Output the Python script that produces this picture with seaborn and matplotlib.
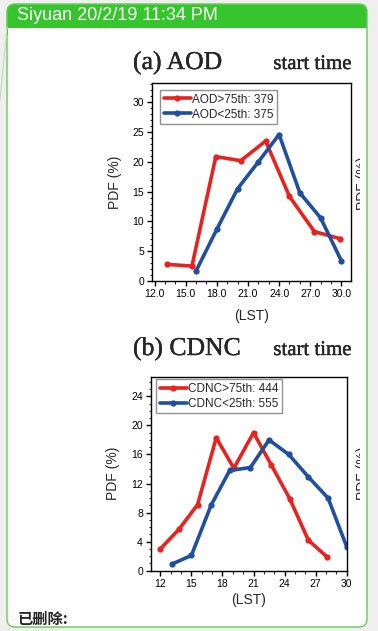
import numpy as np
import matplotlib
matplotlib.use("Agg")
import matplotlib.pyplot as plt
import matplotlib.patches as mpatches
import matplotlib.lines as mlines
import matplotlib.patheffects as pe
from matplotlib.ticker import MultipleLocator, FormatStrFormatter
import seaborn as sns

# data
aod_hi_x = [13.2, 15.6, 17.9, 20.3, 22.7, 25.0, 27.4, 29.9]
aod_hi_y = [2.8, 2.5, 20.9, 20.2, 23.5, 14.2, 8.3, 7.1]
aod_lo_x = [16, 18, 20, 22, 24, 26, 28, 30]
aod_lo_y = [1.7, 8.7, 15.5, 20.0, 24.6, 14.8, 10.6, 3.4]

cdnc_hi_x = [12.0, 13.8, 15.6, 17.4, 19.1, 21.0, 22.7, 24.5, 26.3, 28.1]
cdnc_hi_y = [3.0, 5.7, 9.1, 18.3, 14.1, 19.0, 14.6, 9.9, 4.2, 1.9]
cdnc_lo_x = [13.1, 15.0, 16.9, 18.7, 20.7, 22.5, 24.4, 26.3, 28.2, 30.0]
cdnc_lo_y = [0.9, 2.1, 9.0, 13.8, 14.2, 18.0, 16.0, 12.9, 10.0, 3.3]

aod_labels = ["AOD>75th: 379", "AOD<25th: 375"]
cdnc_labels = ["CDNC>75th: 444", "CDNC<25th: 555"]
x_ticks = [12, 15, 18, 21, 24, 27, 30]

RED = "#e8231f"
BLUE = "#1f4fa0"
GREEN = "#36c52d"
BORDER = "#62cc58"

sns.set_style("ticks")
plt.rcParams["font.family"] = ["Liberation Sans", "DejaVu Sans"]

W, H = 378, 631
fig = plt.figure(figsize=(W / 100, H / 100), dpi=100)
fig.patch.set_facecolor("#efefef")
T = fig.dpi_scale_trans


def box(x0, y0, x1, y1, **kw):
    # pixel coords, y from top
    return mpatches.FancyBboxPatch((x0 / 100, (H - y1) / 100), (x1 - x0) / 100, (y1 - y0) / 100,
                                   transform=T, zorder=-5, **kw)


fig.add_artist(box(7, 4, 367, 627, boxstyle="round,pad=0,rounding_size=0.08",
                   facecolor="white", edgecolor="none"))
fig.add_artist(box(7, 4, 367, 40, boxstyle="round,pad=0,rounding_size=0.08",
                   facecolor=GREEN, edgecolor="none"))
fig.add_artist(box(7.5, 28, 366.5, 44, boxstyle="square,pad=0",
                   facecolor="white", edgecolor="none"))
fig.add_artist(box(7, 4, 367, 627, boxstyle="round,pad=0,rounding_size=0.08",
                   facecolor="none", edgecolor=BORDER, linewidth=1.0))
fig.add_artist(mlines.Line2D([7 / 100, 0], [(H - 27) / 100, (H - 100) / 100],
                             transform=T, color="#b9e2b3", lw=0.8, zorder=-4))

fig.text(17 / W, 1 - 16 / H, "Siyuan 20/2/19 11:34 PM", color="white", fontsize=13,
         va="center", ha="left")
fig.text(18 / W, 1 - 619 / H, "已删除:", fontsize=11, fontweight="bold", va="center",
         ha="left", family=["Noto Sans CJK SC", "DejaVu Sans"])

heavy = [pe.withStroke(linewidth=0.25, foreground="black")]


def panel(rect, hx, hy, lx, ly, labels, ylim, ymaj, xlim, fmt, title, ty, leg_xy,
          ylab_x, xlab_y, clip_y):
    ax = fig.add_axes(rect)
    sns.lineplot(x=hx, y=hy, color=RED, marker="o", lw=2.6, markersize=4.5,
                 markeredgewidth=0, label=labels[0], ax=ax)
    sns.lineplot(x=lx, y=ly, color=BLUE, marker="o", lw=2.6, markersize=4.5,
                 markeredgewidth=0, label=labels[1], ax=ax)
    ax.set_xlim(*xlim)
    ax.set_ylim(*ylim)
    ax.set_xticks(x_ticks)
    ax.xaxis.set_major_formatter(FormatStrFormatter(fmt))
    ax.yaxis.set_major_locator(MultipleLocator(ymaj))
    ax.xaxis.set_minor_locator(MultipleLocator(1))
    ax.yaxis.set_minor_locator(MultipleLocator(1))
    ax.tick_params(which="major", direction="out", length=3.8, width=1.0, labelsize=7.5,
                   pad=2, colors="black")
    ax.tick_params(which="minor", direction="out", length=1.8, width=0.8)
    for s in ax.spines.values():
        s.set_visible(True)
        s.set_linewidth(1.0)
        s.set_color("black")
    ax.set_ylabel("PDF (%)", fontsize=10)
    ax.set_xlabel("(LST)", fontsize=10, va="top")
    ax.yaxis.set_label_coords(ylab_x, 0.5)
    ax.xaxis.set_label_coords(0.5, xlab_y)
    leg = ax.legend(loc="upper left", bbox_to_anchor=leg_xy, borderaxespad=0,
                    fontsize=8.5, frameon=True, fancybox=False, handlelength=2.3,
                    handletextpad=0.1, labelspacing=0.25, borderpad=0.3)
    leg.get_frame().set_edgecolor("#777777")
    leg.get_frame().set_linewidth(1.0)
    fig.text(133 / W, 1 - ty / H, title, family="Liberation Serif", fontsize=18.5,
             va="baseline", ha="left", path_effects=heavy)
    fig.text(352 / W, 1 - ty / H, "start time", family="Liberation Serif", fontsize=15,
             va="baseline", ha="right", path_effects=heavy)
    # neighbouring panel's y label, cut by the frame
    t = fig.text(356 / W, 1 - clip_y / H, "PDF (%)", fontsize=10, rotation=90,
                 va="center", ha="left")
    t.set_clip_path(mpatches.Rectangle((0, 0), 3.595, H / 100, transform=T))
    return ax


panel([152 / W, 1 - 281 / H, 199 / W, 197.7 / H], aod_hi_x, aod_hi_y, aod_lo_x, aod_lo_y,
      aod_labels, (0, 33.2), 5, (11.75, 30.93), "%.1f", "(a) AOD", 69, (0.042, 0.966),
      -0.15, -0.14, 183)
panel([151 / W, 1 - 570.7 / H, 195.7 / W, 194 / H], cdnc_hi_x, cdnc_hi_y, cdnc_lo_x, cdnc_lo_y,
      cdnc_labels, (0, 26.7), 4, (11.1, 30.0), "%d", "(b) CDNC", 355, (0.026, 0.987),
      -0.16, -0.117, 473)

fig.savefig("out.png", dpi=100)
